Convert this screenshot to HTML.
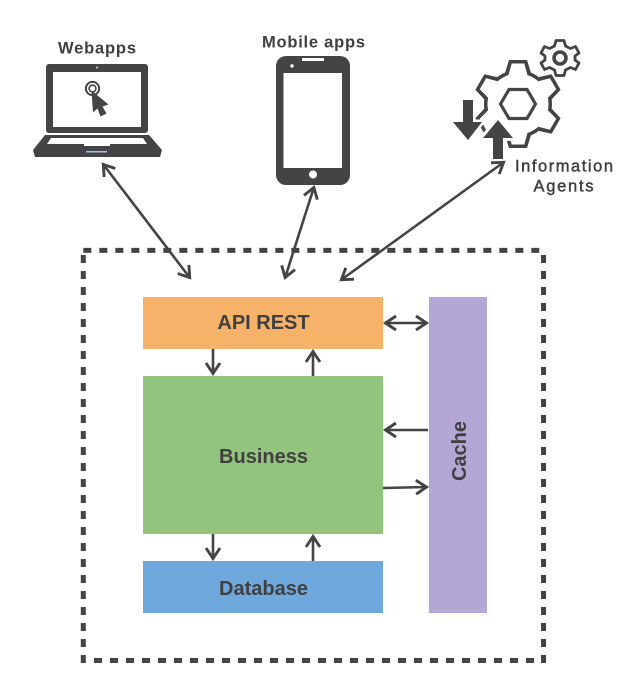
<!DOCTYPE html>
<html>
<head>
<meta charset="utf-8">
<style>
html,body{margin:0;padding:0;background:#fff;}
svg{display:block;}
text{font-family:"Liberation Sans",sans-serif;fill:#404040;}
</style>
</head>
<body>
<svg width="626" height="680" viewBox="0 0 626 680" xmlns="http://www.w3.org/2000/svg">
<defs>
<marker id="h" markerUnits="userSpaceOnUse" markerWidth="20" markerHeight="20" refX="14" refY="10" orient="auto-start-reverse">
<path d="M3 3 L13.5 10 L3 17" fill="none" stroke="#444" stroke-width="2.9"/>
</marker>
<path id="tooth" d="M-13 -31 L-9 -44 L9 -44 L13 -31 Z"/>
<path id="toothw" d="M-9.5 -29 L-6.3 -40.5 L6.3 -40.5 L9.5 -29 Z"/>
</defs>

<!-- dashed container -->
<g fill="none" stroke="#444" stroke-width="5" stroke-dasharray="8 8">
<line x1="83.3" y1="250.4" x2="545" y2="250.4"/>
<line x1="83.3" y1="255" x2="83.3" y2="663"/>
<line x1="543.5" y1="255" x2="543.5" y2="663"/>
<line x1="94" y1="660.5" x2="536" y2="660.5"/>
</g>

<!-- boxes -->
<rect x="143" y="297" width="240" height="52" fill="#f7b26a"/>
<rect x="143" y="376" width="240" height="158" fill="#93c47d"/>
<rect x="143" y="561" width="240" height="52" fill="#6fa8dc"/>
<rect x="429" y="297" width="58" height="316" fill="#b4a7d6"/>

<text x="263.5" y="329" font-size="20" font-weight="bold" text-anchor="middle">API REST</text>
<text x="263.5" y="463" font-size="20" font-weight="bold" text-anchor="middle">Business</text>
<text x="263.5" y="595" font-size="20" font-weight="bold" text-anchor="middle">Database</text>
<text transform="translate(466 451) rotate(-90)" font-size="20" font-weight="bold" text-anchor="middle">Cache</text>

<!-- laptop -->
<rect x="46" y="64" width="102" height="69" rx="3" fill="#444"/>
<rect x="53" y="72" width="88" height="55" fill="#fff"/>
<circle cx="97" cy="67.5" r="1" fill="#ddd"/>
<path d="M45 135 L149 135 L162 150 L160 157 L35 157 L33 150 Z" fill="#444"/>
<path d="M51 138 L143 138 L147 144 L110 144 L110 146 L84 146 L84 144 L47 144 Z" fill="#fff"/>
<rect x="86" y="151" width="21" height="1.5" fill="#9fc5d8"/>
<circle cx="92.5" cy="88.5" r="6.6" fill="none" stroke="#444" stroke-width="2"/>
<circle cx="92.5" cy="88.5" r="3.4" fill="none" stroke="#444" stroke-width="1.6"/>
<path d="M91.5 90.5 L108.5 104.5 L102.5 106.5 L106.5 113.5 L100.5 116.5 L97.5 108.5 L93 112.5 Z" fill="#444"/>

<!-- phone -->
<rect x="276" y="56" width="74" height="129" rx="10" fill="#444"/>
<rect x="283.5" y="73" width="58.5" height="95" fill="#fff"/>
<rect x="302" y="58" width="22" height="3" fill="#fff"/>
<circle cx="292" cy="66" r="1.7" fill="#fff"/>
<circle cx="313" cy="174.5" r="4" fill="#fff"/>

<!-- large gear -->
<g transform="translate(518 104)">
<g fill="#444">
<circle r="34"/>
<use href="#tooth"/>
<use href="#tooth" transform="rotate(60)"/>
<use href="#tooth" transform="rotate(120)"/>
<use href="#tooth" transform="rotate(180)"/>
<use href="#tooth" transform="rotate(240)"/>
<use href="#tooth" transform="rotate(300)"/>
</g>
<g fill="#fff">
<circle r="30.5"/>
<use href="#toothw"/>
<use href="#toothw" transform="rotate(60)"/>
<use href="#toothw" transform="rotate(120)"/>
<use href="#toothw" transform="rotate(180)"/>
<use href="#toothw" transform="rotate(240)"/>
<use href="#toothw" transform="rotate(300)"/>
</g>
<path d="M-17.5 0 L-9 -14.5 L9 -14.5 L17.5 0 L9 14.5 L-9 14.5 Z" fill="none" stroke="#444" stroke-width="3.2"/>
</g>

<!-- small gear -->
<g transform="translate(560 58)">
<g fill="#fff" stroke="#444" stroke-width="2.8" stroke-linejoin="round">
<path d="M-4 -17.5 L4 -17.5 L5.5 -12 L10.5 -9.5 L15.5 -11.5 L19 -5 L15 -2 L15 2 L19 5 L15.5 11.5 L10.5 9.5 L5.5 12 L4 17.5 L-4 17.5 L-5.5 12 L-10.5 9.5 L-15.5 11.5 L-19 5 L-15 2 L-15 -2 L-19 -5 L-15.5 -11.5 L-10.5 -9.5 L-5.5 -12 Z"/>
</g>
<circle r="6" fill="none" stroke="#444" stroke-width="3.6"/>
</g>

<!-- transfer arrows -->
<path d="M463 100 L473 100 L473 122 L482 122 L468 140 L453 122 L463 122 Z" fill="#444" stroke="#fff" stroke-width="5" paint-order="stroke"/>
<path d="M498 120 L513 138 L503 138 L503 159 L493 159 L493 138 L483 138 Z" fill="#444" stroke="#fff" stroke-width="6" paint-order="stroke"/>

<!-- labels -->
<text x="97" y="53.5" font-size="16.5" font-weight="bold" text-anchor="middle" textLength="78" lengthAdjust="spacing">Webapps</text>
<text x="313.5" y="47.5" font-size="16.5" font-weight="bold" text-anchor="middle" textLength="103" lengthAdjust="spacing">Mobile apps</text>
<text x="564" y="171.5" font-size="16.5" text-anchor="middle" textLength="98" lengthAdjust="spacing" stroke="#404040" stroke-width="0.45">Information</text>
<text x="563.5" y="191.5" font-size="16.5" text-anchor="middle" textLength="60" lengthAdjust="spacing" stroke="#404040" stroke-width="0.45">Agents</text>

<!-- connectors -->
<g fill="none" stroke="#444" stroke-width="2.6">
<line x1="103" y1="164" x2="190" y2="278" marker-start="url(#h)" marker-end="url(#h)"/>
<line x1="314" y1="187" x2="285" y2="278" marker-start="url(#h)" marker-end="url(#h)"/>
<line x1="504" y1="162" x2="341" y2="280" marker-start="url(#h)" marker-end="url(#h)"/>
<line x1="385" y1="323" x2="427" y2="323" marker-start="url(#h)" marker-end="url(#h)"/>
<line x1="428" y1="430" x2="385" y2="430" marker-end="url(#h)"/>
<line x1="383" y1="488" x2="427" y2="487" marker-end="url(#h)"/>
<line x1="213" y1="349" x2="213" y2="374" marker-end="url(#h)"/>
<line x1="313" y1="376" x2="313" y2="351" marker-end="url(#h)"/>
<line x1="213" y1="534" x2="213" y2="559" marker-end="url(#h)"/>
<line x1="313" y1="561" x2="313" y2="536" marker-end="url(#h)"/>
</g>
</svg>
</body>
</html>
